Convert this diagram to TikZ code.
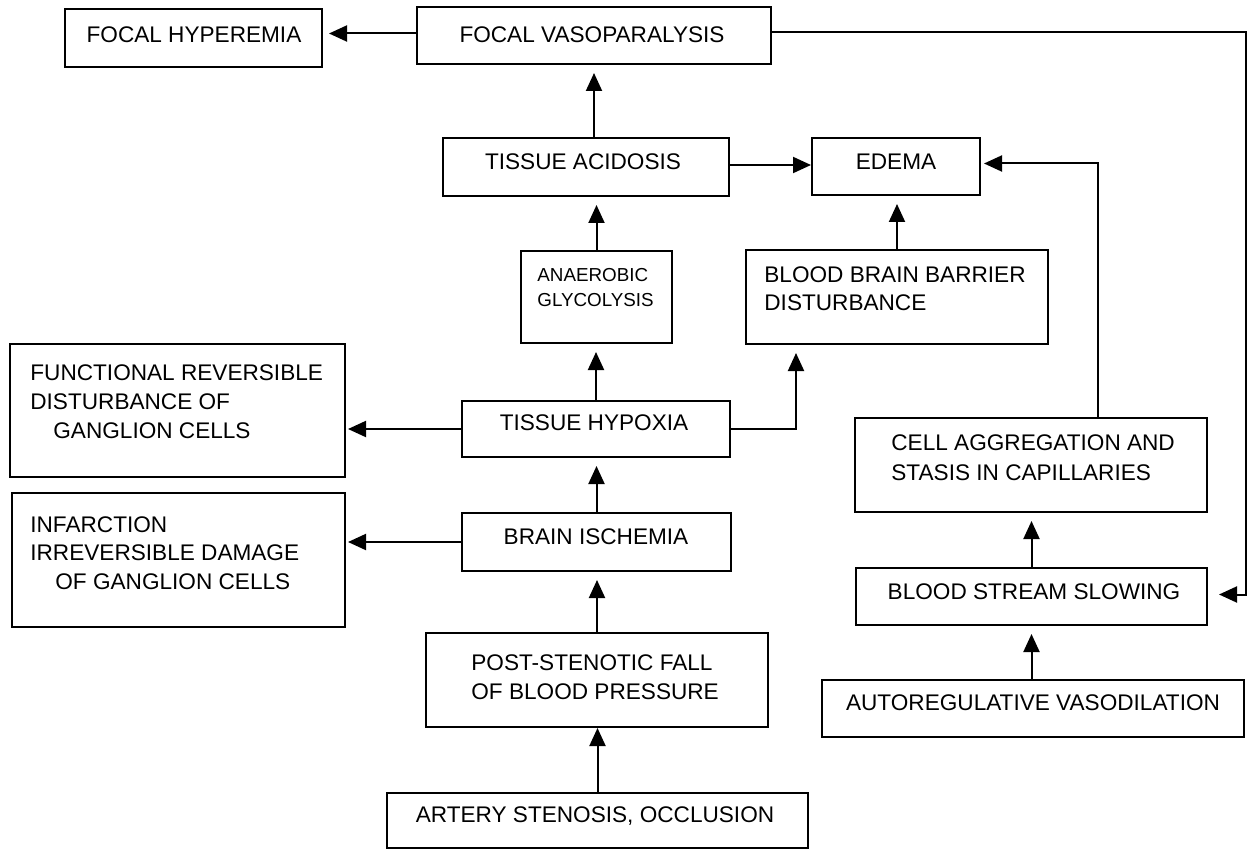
\documentclass[tikz,border=0pt]{standalone}
\usepackage{fontspec}
\setmainfont{Liberation Sans}
\usetikzlibrary{fit,arrows.meta}
\begin{document}
\begin{tikzpicture}[x=0.5pt,y=-0.5pt,
  box/.style={draw,line width=1pt,inner sep=0pt},
  txt/.style={inner sep=0pt,anchor=north,font=\fontsize{11.3}{14.6}\selectfont},
  mtxt/.style={inner sep=0pt,anchor=north west,align=left,font=\fontsize{11.3}{14.6}\selectfont},
  arr/.style={line width=1pt,-{Triangle[length=9pt,width=8pt]},shorten >=4pt}]
\useasboundingbox (0,0) rectangle (1247,850);
% boxes
\node[box,fit={(65,9) (322,67)}] (hyper) {};
\node[box,fit={(417,7) (771,64)}] (vaso) {};
\node[box,fit={(443,138) (729,196)}] (acid) {};
\node[box,fit={(812,138) (980,195)}] (edema) {};
\node[box,fit={(521,251) (672,343)}] (anaer) {};
\node[box,fit={(746,250) (1048,344)}] (bbb) {};
\node[box,fit={(10,344) (345,477)}] (funct) {};
\node[box,fit={(12,493) (345,627)}] (infarct) {};
\node[box,fit={(462,401) (730,457)}] (hypox) {};
\node[box,fit={(462,513) (731,571)}] (isch) {};
\node[box,fit={(426,633) (768,727)}] (post) {};
\node[box,fit={(387,793) (808,848)}] (artery) {};
\node[box,fit={(855,418) (1207,512)}] (cell) {};
\node[box,fit={(856,568) (1207,625)}] (stream) {};
\node[box,fit={(822,680) (1244,737)}] (auto) {};
% labels
\node[txt] (thyper) at (194,26) {FOCAL HYPEREMIA};
\node[txt] (tvaso) at (592,26) {FOCAL VASOPARALYSIS};
\node[txt] (tacid) at (583,153) {TISSUE ACIDOSIS};
\node[txt] (tedema) at (896,154) {EDEMA};
\node[mtxt,font=\fontsize{9.4}{12.5}\selectfont] (tanaer) at (537,268) {ANAEROBIC\\GLYCOLYSIS};
\node[mtxt,font=\fontsize{11.3}{14}\selectfont] (tbbb) at (764,266) {BLOOD BRAIN BARRIER\\DISTURBANCE};
\node[mtxt] (tfunct) at (30,364) {FUNCTIONAL REVERSIBLE\\DISTURBANCE OF\\\hspace*{11.5pt}GANGLION CELLS};
\node[txt] (thypox) at (594,414) {TISSUE HYPOXIA};
\node[mtxt,font=\fontsize{11.3}{14.3}\selectfont] (tinfarct) at (30,516) {INFARCTION\\IRREVERSIBLE DAMAGE\\\hspace*{12.5pt}OF GANGLION CELLS};
\node[txt] (tisch) at (596,528) {BRAIN ISCHEMIA};
\node[mtxt] (tpost) at (471,654) {POST-STENOTIC FALL\\OF BLOOD PRESSURE};
\node[txt] (tartery) at (595,806) {ARTERY STENOSIS, OCCLUSION};
\node[mtxt,font=\fontsize{11.3}{15}\selectfont] (tcell) at (891,434) {CELL AGGREGATION AND\\STASIS IN CAPILLARIES};
\node[txt] (tstream) at (1034,583) {BLOOD STREAM SLOWING};
\node[txt] (tauto) at (1033,694) {AUTOREGULATIVE VASODILATION};
% right-hand return line
\coordinate (rt) at (1246,0);
% connectors
\draw[arr,shorten >=3pt] ([yshift=1pt]vaso.west) -- ([yshift=1pt]vaso.west -| hyper.east);
\draw[arr] (acid.north -| vaso.south) -- (vaso.south);
\draw[arr] (anaer.north) -- (anaer.north |- acid.south);
\draw[arr] (hypox.north) -- (hypox.north |- anaer.south);
\draw[arr] (isch.north) -- (isch.north |- hypox.south);
\draw[arr] (post.north) -- (post.north |- isch.south);
\draw[arr,shorten >=0pt] (artery.north) -- (artery.north |- post.south);
\draw[arr,shorten >=0pt] ([yshift=1pt]acid.east) -- ([yshift=1pt]acid.east -| edema.west);
\draw[arr] (bbb.north) -- (bbb.north |- edema.south);
\draw[arr] (hypox.east) -| ([xshift=25.5pt]bbb.south west);
\draw[arr,shorten >=1pt] (hypox.west) -- (hypox.west -| funct.east);
\draw[arr,shorten >=1pt] (isch.west) -- (isch.west -| infarct.east);
\draw[arr,shorten >=5.5pt] ([yshift=1.5pt]vaso.east) -- ([yshift=1.5pt]vaso.east -| rt) -- ([yshift=1pt]stream.east -| rt) -- ([yshift=1pt]stream.east);
\draw[arr,shorten >=1.5pt] ([xshift=33.5pt]cell.north) |- ([yshift=1.5pt]edema.east);
\draw[arr] (stream.north) -- (stream.north |- cell.south);
\draw[arr] (auto.north -| stream.north) -- (stream.south);
\end{tikzpicture}
\end{document}
